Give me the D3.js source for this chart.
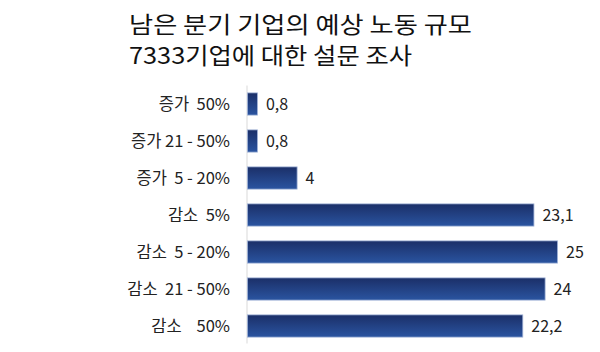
<!DOCTYPE html>
<html>
<head>
<meta charset="utf-8">
<script src="https://cdn.jsdelivr.net/npm/d3@7"></script>
<style>
  body { margin: 0; background: #fff; }
  svg { display: block; }
</style>
</head>
<body>
<svg id="drawing_region"></svg>
<script>
const categories = ["증가  50%", "증가 21 - 50%", "증가  5 - 20%", "감소  5%", "감소  5 - 20%", "감소  21 - 50%", "감소    50%"];
const values = [0.8, 0.8, 4, 23.1, 25, 24, 22.2];
const valueLabels = ["0,8", "0,8", "4", "23,1", "25", "24", "22,2"];
const titleLines = ["남은 분기 기업의 예상 노동 규모", "7333기업에 대한 설문 조사"];

const data = categories.map((c, i) => ({ label: c, value: values[i], text: valueLabels[i] }));

const config = {
    width: 600,
    height: 352,
    margin: { top: 85.5, right: 43, bottom: 7.5, left: 247 }
};

const svg = d3.select('#drawing_region')
    .attr('width', config.width)
    .attr('height', config.height);

const inner_width = config.width - config.margin.left - config.margin.right;
const inner_height = config.height - config.margin.top - config.margin.bottom;

const chart = svg.append('g')
    .attr('transform', `translate(${config.margin.left}, ${config.margin.top})`);

// 25 -> 310px
const xscale = d3.scaleLinear()
    .domain([0, 25])
    .range([0, 310]);

const yscale = d3.scaleBand()
    .domain(data.map(d => d.label))
    .range([0, inner_height])
    .paddingInner(0.4)
    .paddingOuter(0.2);

const defs = svg.append('defs');
const grad = defs.append('linearGradient')
    .attr('id', 'bargrad')
    .attr('x1', 0).attr('y1', 0).attr('x2', 0).attr('y2', 1);
grad.append('stop').attr('offset', '0%').attr('stop-color', '#1b2f68');
grad.append('stop').attr('offset', '100%').attr('stop-color', '#2a54a0');

// title, two lines
svg.selectAll('.title')
    .data(titleLines)
    .enter()
    .append('text')
    .attr('class', 'title')
    .attr('x', 129)
    .attr('y', (d, i) => 33 + i * 31)
    .attr('font-family', '"Noto Sans CJK KR", sans-serif')
    .attr('font-size', '23px')
    .attr('fill', '#111')
    .attr('textLength', (d, i) => i === 0 ? 343 : 283)
    .attr('lengthAdjust', 'spacingAndGlyphs')
    .text(d => d);

// axis line
chart.append('line')
    .attr('x1', 0).attr('x2', 0)
    .attr('y1', 0).attr('y2', inner_height - 1)
    .attr('stroke', '#d9d9d9')
    .attr('stroke-width', 1);

chart.selectAll('rect.bar')
    .data(data)
    .enter()
    .append('rect')
    .attr('class', 'bar')
    .attr('x', 0.5)
    .attr('y', d => yscale(d.label))
    .attr('width', d => xscale(d.value))
    .attr('height', yscale.bandwidth())
    .attr('fill', 'url(#bargrad)')
    .attr('stroke', '#9fb1d6')
    .attr('stroke-width', 0.8);

chart.selectAll('text.value')
    .data(data)
    .enter()
    .append('text')
    .attr('class', 'value')
    .attr('x', d => xscale(d.value) + 9)
    .attr('y', d => yscale(d.label) + yscale.bandwidth() / 2)
    .attr('dy', '0.36em')
    .attr('font-family', '"Noto Sans CJK KR", sans-serif')
    .attr('font-size', '16px')
    .attr('fill', '#222')
    .text(d => d.text);

chart.selectAll('text.cat')
    .data(data)
    .enter()
    .append('text')
    .attr('class', 'cat')
    .attr('x', -17)
    .attr('y', d => yscale(d.label) + yscale.bandwidth() / 2)
    .attr('dy', '0.36em')
    .attr('text-anchor', 'end')
    .attr('font-family', '"Noto Sans CJK KR", sans-serif')
    .attr('font-size', '16.5px')
    .attr('fill', '#222')
    .attr('xml:space', 'preserve')
    .style('white-space', 'pre')
    .text(d => d.label);
</script>
</body>
</html>
